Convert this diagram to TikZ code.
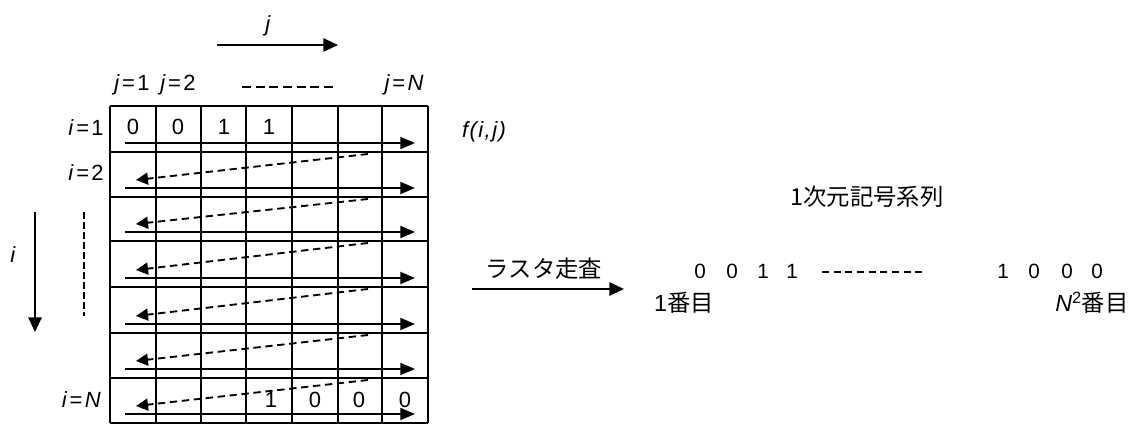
\documentclass[tikz,border=0pt]{standalone}
\usepackage{fontspec}
\setmainfont{Liberation Sans}
\newfontfamily\jp{Noto Sans CJK JP}
\newfontfamily\lsans{Liberation Sans}
\usetikzlibrary{arrows.meta}
\newcommand{\sq}{\kern1.8pt=\kern1.8pt}
\newcommand{\ks}{\kern1.1pt}
\begin{document}
\begin{tikzpicture}[x=0.75pt,y=-0.75pt,
  lbl/.style={inner sep=0pt, font=\fontsize{16.5}{19}\selectfont},
  dig/.style={inner sep=0pt, font=\fontsize{15.5}{18}\selectfont},
  jtxt/.style={inner sep=0pt, font=\jp\fontsize{17.5}{20}\selectfont},
  gridline/.style={line width=2pt},
  scan/.style={line width=1.4pt, -{Triangle[length=11pt,width=9pt]}},
  ret/.style={line width=1.4pt, dash pattern=on 5.5pt off 3.5pt, -{Triangle[length=9pt,width=9pt]}},
  bigarrow/.style={line width=1.5pt, -{Triangle[length=11pt,width=10pt]}},
  dotsA/.style={line width=1.5pt, dash pattern=on 6.75pt off 3.5pt},
  dotsB/.style={line width=1.5pt, dash pattern=on 5.25pt off 3.5pt},
  dotsV/.style={line width=1.5pt, dash pattern=on 5pt off 2.5pt},
]
\useasboundingbox (0,0) rectangle (1132,425);

% grid
\foreach \x in {110,156,201,246,292,338,382,428}
  \draw[gridline] (\x,106) -- (\x,423);
\foreach \y in {106,152,197,241,287,333,378,423}
  \draw[gridline] (110,\y) -- (428,\y);

% scan arrows
\foreach \t/\b [count=\r] in {106/152,152/197,197/241,241/287,287/333,333/378,378/423}{
  \coordinate (sa\r) at (125,\b-9);
  \coordinate (sb\r) at (415,\b-9);
  \draw[scan] (sa\r) -- (sb\r);
}
\foreach \t/\b [count=\r from 2] in {152/197,197/241,241/287,287/333,333/378,378/423}{
  \coordinate (ra\r) at (368,\t+2);
  \coordinate (rb\r) at (136,\b-17);
  \draw[ret] (ra\r) -- (rb\r);
}

% cell values
\node[lbl] (c11) at (133,127) {0};
\node[lbl] (c12) at (178,127) {0};
\node[lbl] (c13) at (224,127) {1};
\node[lbl] (c14) at (269,127) {1};
\node[lbl] (c74) at (271,400) {1};
\node[lbl] (c75) at (315,400) {0};
\node[lbl] (c76) at (359,400) {0};
\node[lbl] (c77) at (405,400) {0};

% top labels
\node[lbl] (jl) at (268,26) {\textit{j}};
\coordinate (ja) at (217,45);
\coordinate (jb) at (338,45);
\draw[bigarrow] (ja) -- (jb);
\node[lbl] (j1) at (132,85) {\textit{j}\sq 1};
\node[lbl] (j2) at (178,85) {\textit{j}\sq 2};
\coordinate (jda) at (242,87);
\coordinate (jdb) at (334,87);
\draw[dotsA] (jda) -- (jdb);
\node[lbl] (jN) at (404,85) {\textit{j}\sq\textit{N}};

% left labels
\node[lbl,anchor=east] (i1) at (104,128) {\textit{i}\sq 1};
\node[lbl,anchor=east] (i2) at (104,173) {\textit{i}\sq 2};
\node[lbl,anchor=east] (iN) at (101,400) {\textit{i}\sq\textit{N}};
\node[lbl] (il) at (13,255) {\textit{i}};
\coordinate (ia) at (35,212);
\coordinate (ib) at (35,332);
\draw[bigarrow] (ia) -- (ib);
\coordinate (ida) at (84,212);
\coordinate (idb) at (84,316);
\draw[dotsV] (ida) -- (idb);

\node[lbl] (f) at (484,132) {\itshape f\ks(\ks i\ks,\ks j\ks)};

% right side
\node[jtxt] (seq) at (867,197) {1次元記号系列};
\node[jtxt] (raster) at (544,269) {ラスタ走査};
\coordinate (ra) at (472,289);
\coordinate (rb) at (624,289);
\draw[bigarrow] (ra) -- (rb);

\node[dig] (d1) at (700,271) {0};
\node[dig] (d2) at (732,271) {0};
\node[dig] (d3) at (763,271) {1};
\node[dig] (d4) at (792,271) {1};
\coordinate (sda) at (822,272);
\coordinate (sdb) at (922,272);
\draw[dotsB] (sda) -- (sdb);
\node[dig] (e1) at (1003,271) {1};
\node[dig] (e2) at (1034,271) {0};
\node[dig] (e3) at (1067,271) {0};
\node[dig] (e4) at (1097,271) {0};

\node[jtxt] (first) at (684,303) {\lsans 1\jp 番目};
\node[jtxt] (last) at (1092,303) {\lsans\textit{N}\textsuperscript{2}\jp 番目};
\end{tikzpicture}
\end{document}
